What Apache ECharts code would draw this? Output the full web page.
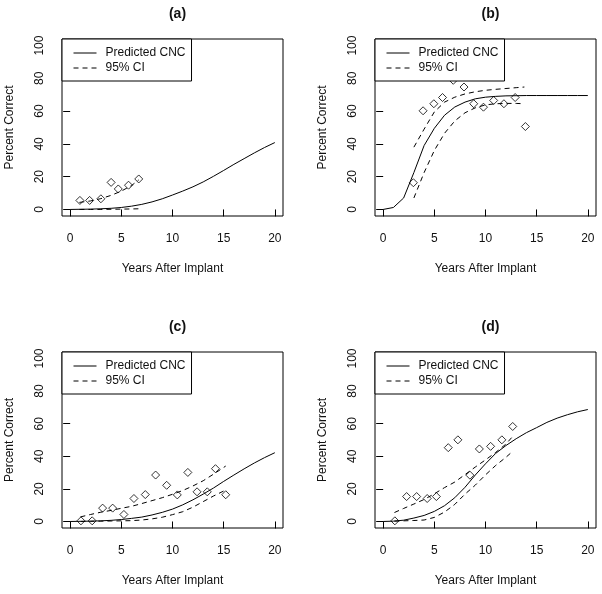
<!DOCTYPE html>
<html>
<head>
<meta charset="utf-8">
<script src="https://cdn.jsdelivr.net/npm/echarts@6/dist/echarts.min.js"></script>
<style>
  body { margin: 0; background: #fff; }
  .panel { position: absolute; width: 301px; height: 297px; }
</style>
</head>
<body>
<div id="a" class="panel" style="left:0;top:0"></div>
<div id="b" class="panel" style="left:301px;top:0"></div>
<div id="c" class="panel" style="left:0;top:297px"></div>
<div id="d" class="panel" style="left:301px;top:297px"></div>
<script>
// years 0..20 for the predicted curves
var years = [0,1,2,3,4,5,6,7,8,9,10,11,12,13,14,15,16,17,18,19,20];
var xTicks = [0,5,10,15,20];
var yTicks = [0,20,40,60,80,100];

// (a)
var predA  = [0,0.1,0.2,0.4,0.7,1.2,2.0,3.1,4.6,6.5,8.8,11.2,13.8,16.8,20.2,23.8,27.5,31.0,34.5,37.8,40.8];
var ciXA   = [0.9,2,3,4,5,6,6.7];
var upperA = [4.3,5.2,6.6,8.6,11.2,14.6,18];
var lowerA = [0,0,0,0.1,0.2,0.3,0.4];
var ptXA   = [0.95,1.9,3,4,4.7,5.7,6.7];
var ptYA   = [5.5,5.5,6.5,16.5,12.5,14.8,18.6];

// (b)
var predB  = [0,1.2,7,22.5,39,49.5,57.5,62.5,65.5,67.5,68.5,69,69.3,69.4,69.5,69.5,69.5,69.5,69.5,69.5,69.5];
var ciXB   = [3,4,5,6,7,8,9,10,11,12,13,13.8];
var upperB = [38,49,59.5,65.5,68.5,70.5,71.8,72.7,73.3,73.8,74.3,74.7];
var lowerB = [7,22.5,36,46.5,54,59,62,63.8,64.5,64.7,64.7,64.5];
var ptXB   = [2.95,3.9,4.95,5.8,6.85,7.9,8.85,9.8,10.8,11.8,12.9,13.9];
var ptYB   = [16.3,60.2,64.5,68.3,78.8,74.7,64.5,62.4,66.5,64.5,68.3,50.6];

// (c)
var predC  = [0,0.1,0.2,0.4,0.7,1.2,1.9,2.7,4.0,5.6,7.6,10.2,13.3,16.8,20.5,24.6,28.5,32.3,35.9,39.2,42.2];
var ciXC   = [1,2,3,4,5,6,7,8,9,10,11,12,13,14,15.2];
var upperC = [2.8,4.3,5.7,6.8,8.1,9.3,11,12.8,14.6,16.7,19,21.8,25,29,34];
var lowerC = [0,0.1,0.2,0.3,0.4,0.5,0.9,1.6,2.6,4.2,6.0,8.8,12.2,15.6,19.3];
var ptXC   = [1.05,2.15,3.17,4.15,5.25,6.23,7.34,8.35,9.43,10.47,11.5,12.4,13.4,14.2,15.2];
var ptYC   = [0.4,0.4,8.2,8.2,4.3,14.1,16.5,28.5,22.2,16.3,30.1,18.2,18.2,32.4,16.4];

// (d)
var predD  = [0,0.2,0.8,2.1,3.7,6.2,9.7,14.6,21,28.5,35.4,41.8,46.6,50.8,54.5,57.6,60.8,63.4,65.5,67.3,68.7];
var ciXD   = [1.1,2,3,4,5,6,7,8,9,10,11,12,12.7];
var upperD = [5.5,8,10.7,13.5,17,20.8,24.2,28.8,33.4,37.8,42.4,47.5,52.5];
var lowerD = [0.2,0.4,0.6,0.9,2.5,5.8,10.5,16.8,22.3,28.6,34.4,39.4,43.3];
var ptXD   = [1.14,2.29,3.27,4.3,5.2,6.36,7.3,8.48,9.4,10.5,11.6,12.66];
var ptYD   = [0.4,15.3,15.3,14.1,15.3,45.3,50.1,28.4,44.5,46.1,50.1,58.3];

var FONT = '"Liberation Sans", Arial, sans-serif';
var INK = '#111';

function pairs(xs, ys) {
  return xs.map(function (x, i) { return [x, ys[i]]; });
}

function drawPanel(id, title, left, top, h, pred, ciX, upper, lower, ptX, ptY) {
  var chart = echarts.init(document.getElementById(id));
  var lineBase = {
    type: 'line', symbol: 'none', silent: true, animation: false, z: 3,
    itemStyle: { color: '#000' }
  };
  chart.setOption({
    animation: false,
    title: {
      text: title,
      left: left + 110.5,
      top: top - 37,
      textAlign: 'center',
      textStyle: { fontFamily: FONT, fontSize: 14, fontWeight: 'bold', color: INK }
    },
    grid: {
      left: left, top: top, width: 221, height: h,
      outerBoundsMode: 'none',
      show: true, borderColor: '#000', borderWidth: 1, backgroundColor: 'transparent'
    },
    legend: {
      left: left, top: top,
      orient: 'vertical',
      padding: [8, 6, 7, 11],
      itemGap: 3,
      itemWidth: 23, itemHeight: 13,
      borderColor: '#000', borderWidth: 1, borderRadius: 0,
      backgroundColor: '#fff',
      itemStyle: { color: 'rgba(0,0,0,0)', borderWidth: 0, opacity: 0 },
      lineStyle: { width: 1 },
      data: ['Predicted CNC', '95% CI'],
      textStyle: { fontFamily: FONT, fontSize: 12, color: INK, padding: [0, 0, 0, 4] }
    },
    xAxis: {
      type: 'value', min: -0.8, max: 20.8,
      name: 'Years After Implant', nameLocation: 'middle', nameGap: 47,
      nameTextStyle: { fontFamily: FONT, fontSize: 12, color: INK },
      axisLine: { show: false },
      axisTick: { show: true, inside: false, length: 7, customValues: xTicks, lineStyle: { color: '#000' } },
      axisLabel: { customValues: xTicks, margin: 17, fontFamily: FONT, fontSize: 12, color: INK },
      splitLine: { show: false }
    },
    yAxis: {
      type: 'value', min: -4, max: 104,
      name: 'Percent Correct', nameLocation: 'middle', nameGap: 46, nameRotate: 90,
      nameTextStyle: { fontFamily: FONT, fontSize: 12, color: INK },
      axisLine: { show: false },
      axisTick: { show: true, inside: false, length: 7, customValues: yTicks, lineStyle: { color: '#000' } },
      axisLabel: { customValues: yTicks, rotate: 90, margin: 16, fontFamily: FONT, fontSize: 12, color: INK },
      splitLine: { show: false }
    },
    series: [
      Object.assign({}, lineBase, {
        name: 'Predicted CNC',
        data: pairs(years, pred),
        lineStyle: { color: '#000', width: 1, type: 'solid' }
      }),
      Object.assign({}, lineBase, {
        name: '95% CI',
        data: pairs(ciX, upper),
        lineStyle: { color: '#000', width: 1, type: [5, 4] }
      }),
      Object.assign({}, lineBase, {
        name: '95% CI',
        data: pairs(ciX, lower),
        lineStyle: { color: '#000', width: 1, type: [5, 4] }
      }),
      {
        name: 'obs', type: 'scatter', symbol: 'diamond', symbolSize: 8, silent: true, z: 2,
        data: pairs(ptX, ptY),
        itemStyle: { color: 'rgba(0,0,0,0)', borderColor: '#000', borderWidth: 1 }
      }
    ]
  });
}

drawPanel('a', '(a)', 62, 39, 177, predA, ciXA, upperA, lowerA, ptXA, ptYA);
drawPanel('b', '(b)', 74, 39, 177, predB, ciXB, upperB, lowerB, ptXB, ptYB);
drawPanel('c', '(c)', 62, 55, 176, predC, ciXC, upperC, lowerC, ptXC, ptYC);
drawPanel('d', '(d)', 74, 55, 176, predD, ciXD, upperD, lowerD, ptXD, ptYD);
</script>
</body>
</html>
